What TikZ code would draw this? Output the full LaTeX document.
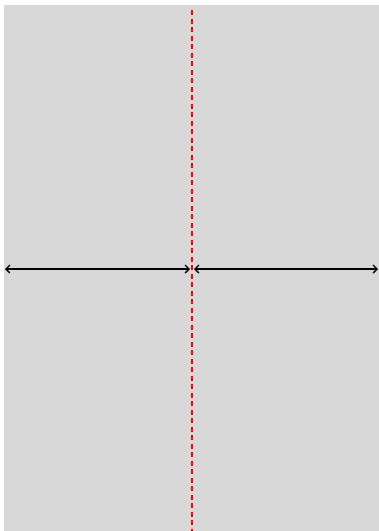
\documentclass[tikz,border=0pt]{standalone}
\usetikzlibrary{arrows.meta}
\definecolor{sheetgray}{RGB}{216,216,216}
\begin{document}
\begin{tikzpicture}[x=1pt,y=-1pt]
            \def\w{379}
            \def\h{531}
            \def\m{192}
            \def\a{269}

            \useasboundingbox (0,0) rectangle (\w,\h);
            \fill[color=sheetgray] (4,5) rectangle (\w,\h);

            \coordinate (top) at (\m,10);
            \coordinate (bottom) at (\m,\h);
            \coordinate (left) at (5,\a);
            \coordinate (midl) at (190,\a);
            \coordinate (midr) at (194,\a);
            \coordinate (right) at (378,\a);

            \draw[red,line width=1.6pt,dash pattern=on 5pt off 3.5pt] (top) -- (bottom);
            \draw[line width=1.4pt,{Straight Barb[length=4pt,width=8pt]}-{Straight Barb[length=4pt,width=8pt]}] (left) -- (midl);
            \draw[line width=1.4pt,{Straight Barb[length=4pt,width=8pt]}-{Straight Barb[length=4pt,width=8pt]}] (midr) -- (right);

        \end{tikzpicture}
\end{document}
